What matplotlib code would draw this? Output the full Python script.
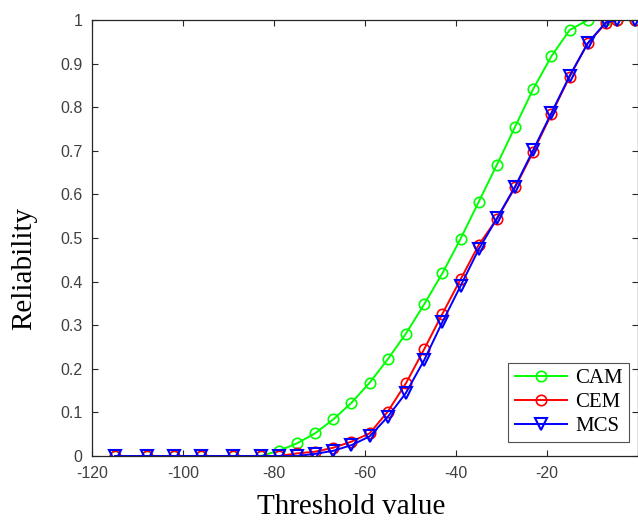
import numpy as np
import matplotlib
matplotlib.use("Agg")
import matplotlib.pyplot as plt

plt.rcParams["axes.unicode_minus"] = False

# threshold values (shared by all three curves)
threshold = [-115, -108, -102, -96, -89, -83, -79, -75, -71, -67, -63, -59,
             -55, -51, -47, -43, -39, -35, -31, -27, -23, -19, -15, -11,
             -7, -4.6, -0.6]

cam = [0, 0, 0, 0, 0, 0, 0.012, 0.029, 0.052, 0.084, 0.122, 0.168,
       0.222, 0.281, 0.348, 0.419, 0.498, 0.583, 0.668, 0.755, 0.842, 0.917,
       0.977, 1.0, 1.0, 1.0, 1.0]
cem = [0, 0, 0, 0, 0, 0, 0, 0.006, 0.01, 0.019, 0.033, 0.052,
       0.102, 0.167, 0.245, 0.326, 0.405, 0.484, 0.544, 0.616, 0.698, 0.784,
       0.870, 0.947, 0.993, 1.0, 1.0]
mcs = [0, 0, 0, 0, 0, 0, 0, 0, 0.005, 0.012, 0.025, 0.045,
       0.09, 0.145, 0.22, 0.307, 0.39, 0.474, 0.545, 0.618, 0.702, 0.787,
       0.872, 0.947, 0.995, 1.0, 1.0]

xticks = [-120, -100, -80, -60, -40, -20, 0]
xtick_labels = ["-120", "-100", "-80", "-60", "-40", "-20", ""]  # 0 falls off the edge
yticks = [0, 0.1, 0.2, 0.3, 0.4, 0.5, 0.6, 0.7, 0.8, 0.9, 1]
ytick_labels = ["0", "0.1", "0.2", "0.3", "0.4", "0.5", "0.6", "0.7", "0.8", "0.9", "1"]

axcol = "#262626"

fig = plt.figure(figsize=(6.38, 5.2), dpi=100)
ax = fig.add_axes([0.1447, 0.123, 0.855, 0.8385])

ax.plot(threshold, cam, color=(0, 1, 0), marker="o", mfc="none", ms=7.5,
        mew=1.2, lw=1.4, label="CAM")
ax.plot(threshold, cem, color=(1, 0, 0), marker="o", mfc="none", ms=7.5,
        mew=1.2, lw=1.4, label="CEM")
ax.plot(threshold, mcs, color=(0, 0, 1), marker="v", mfc="none", ms=8.5,
        mew=1.5, lw=1.4, label="MCS")

ax.set_xlim(-120, 0)
ax.set_ylim(0, 1)
ax.set_xticks(xticks)
ax.set_xticklabels(xtick_labels)
ax.set_yticks(yticks)
ax.set_yticklabels(ytick_labels)
ax.tick_params(direction="in", top=True, right=True, length=4, width=0.8,
               colors=axcol, labelsize=11.5)
ax.tick_params(axis="x", pad=7)
ax.tick_params(axis="y", pad=7)
for lab in ax.get_xticklabels() + ax.get_yticklabels():
    lab.set_family("Liberation Sans")
    lab.set_color("#404040")
for sp in ax.spines.values():
    sp.set_color(axcol)
    sp.set_linewidth(0.9)

ax.set_xlabel("Threshold value", family="Liberation Serif", fontsize=21)
ax.xaxis.set_label_coords(0.474, -0.088)
ax.set_ylabel("Reliability", family="Liberation Serif", fontsize=21,
              va="center")
ax.yaxis.set_label_coords(-0.124, 0.431)

leg = ax.legend(loc="lower right", bbox_to_anchor=(0.9835, 0.032),
                prop={"family": "Liberation Serif", "size": 15},
                frameon=True, fancybox=False, handlelength=2.5,
                borderpad=0.3, labelspacing=0.2, handletextpad=0.4,
                borderaxespad=0)
leg.get_frame().set_edgecolor(axcol)
leg.get_frame().set_linewidth(0.8)

fig.savefig("out.png", dpi=100)
